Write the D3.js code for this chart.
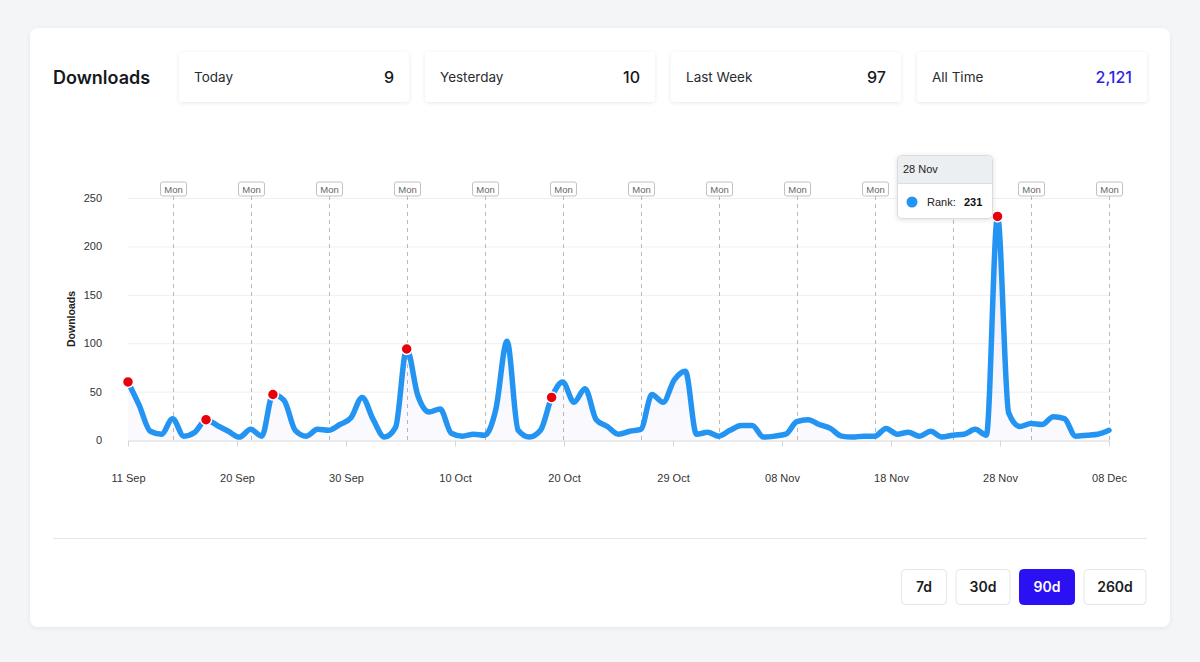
<!DOCTYPE html>
<html>
<head>
<meta charset="utf-8">
<script src="https://cdn.jsdelivr.net/npm/d3@7"></script>
<style>
  html, body { margin: 0; padding: 0; background: #f4f5f7; }
  svg { display: block; }
</style>
</head>
<body>
<svg id="chart" width="1200" height="662"></svg>
<script>
// ---------- data ----------
const startDate = "2025-09-11";
const downloads = [
  60, 36, 9, 6, 22, 4, 8, 21, 15, 9,
  3, 11, 4, 47, 41, 10, 4, 11, 10, 16,
  23, 44, 21, 3, 13, 94, 46, 29, 32, 7,
  4, 6, 5, 32, 102, 10, 3, 10, 44, 60,
  39, 53, 21, 14, 6, 9, 11, 47, 39, 62,
  71, 6, 8, 4, 10, 15, 15, 3, 4, 6,
  19, 21, 16, 12, 4, 3, 4, 4, 12, 6,
  8, 4, 9, 3, 5, 6, 11, 5, 231, 28,
  14, 17, 16, 24, 22, 4, 5, 6, 10
];
const markerDays = [0, 7, 13, 25, 38, 78];
const tickLabels = ["11 Sep", "20 Sep", "30 Sep", "10 Oct", "20 Oct", "29 Oct", "08 Nov", "18 Nov", "28 Nov", "08 Dec"];
const yTicks = [0, 50, 100, 150, 200, 250];
const statLabels = ["Today", "Yesterday", "Last Week", "All Time"];
const statValues = ["9", "10", "97", "2,121"];
const rangeButtons = ["7d", "30d", "90d", "260d"];
const activeButton = "90d";
const tooltipDay = 78;
const tooltipLabel = "28 Nov";
const tooltipSeries = "Rank:";

(function () {
// ---------- setup ----------
const svg = d3.select("#chart");
const uiFont = "Inter, 'Noto Sans', sans-serif";
const chartFont = "'Liberation Sans', Arial, sans-serif";

const defs = svg.append("defs");
const f1 = defs.append("filter").attr("id", "cardShadow").attr("x", "-5%").attr("y", "-5%").attr("width", "110%").attr("height", "110%");
f1.append("feDropShadow").attr("dx", 0).attr("dy", 1).attr("stdDeviation", 2).attr("flood-color", "#000").attr("flood-opacity", 0.07);
const f2 = defs.append("filter").attr("id", "boxShadow").attr("x", "-10%").attr("y", "-30%").attr("width", "120%").attr("height", "160%");
f2.append("feDropShadow").attr("dx", 0).attr("dy", 1).attr("stdDeviation", 2).attr("flood-color", "#000").attr("flood-opacity", 0.09);
const f3 = defs.append("filter").attr("id", "tipShadow").attr("x", "-20%").attr("y", "-20%").attr("width", "140%").attr("height", "150%");
f3.append("feDropShadow").attr("dx", 0).attr("dy", 1).attr("stdDeviation", 2.5).attr("flood-color", "#000").attr("flood-opacity", 0.12);

// card
svg.append("rect").attr("x", 30).attr("y", 28).attr("width", 1140).attr("height", 599)
  .attr("rx", 8).attr("fill", "#fff").attr("filter", "url(#cardShadow)");

// title
svg.append("text").attr("x", 53).attr("y", 84).text("Downloads")
  .attr("font-family", uiFont).attr("font-size", 18).attr("font-weight", 600).attr("fill", "#16181d");

// stat boxes
const boxW = 230, boxGap = 16, box0 = 179;
const stats = svg.append("g").selectAll("g").data(statLabels).join("g")
  .attr("transform", (d, i) => `translate(${box0 + i * (boxW + boxGap)},52)`);
stats.append("rect").attr("width", boxW).attr("height", 50).attr("rx", 4)
  .attr("fill", "#fff").attr("filter", "url(#boxShadow)");
stats.append("text").attr("x", 15).attr("y", 30).text(d => d)
  .attr("font-family", uiFont).attr("font-size", 13.5).attr("fill", "#2a2c31");
stats.append("text").attr("x", boxW - 15).attr("y", 31).attr("text-anchor", "end")
  .text((d, i) => statValues[i])
  .attr("font-family", uiFont).attr("font-size", 16).attr("font-weight", 500)
  .attr("fill", (d, i) => i === 3 ? "#2f24e0" : "#16181d");

// ---------- chart ----------
const pLeft = 128, pRight = 1109, pTop = 198, pBottom = 440;
const t0 = d3.timeParse("%Y-%m-%d")(startDate);
const dates = downloads.map((d, i) => d3.timeDay.offset(t0, i));
const x = d3.scaleTime().domain([dates[0], dates[dates.length - 1]]).range([pLeft, pRight]);
const y = d3.scaleLinear().domain([0, 250]).range([pBottom, pTop]);
const tickScale = d3.scalePoint().domain(tickLabels).range([pLeft, pRight]);

const g = svg.append("g");

// horizontal grid
g.append("g").selectAll("line").data(yTicks.filter(v => v > 0)).join("line")
  .attr("x1", pLeft).attr("x2", pRight).attr("y1", d => y(d) + 0.5).attr("y2", d => y(d) + 0.5)
  .attr("stroke", "#efefef").attr("stroke-width", 1);

// y axis labels
const yAxis = g.append("g").attr("transform", `translate(${pLeft},0)`)
  .call(d3.axisLeft(y).tickValues(yTicks).tickSize(0).tickPadding(26));
yAxis.select(".domain").remove();
yAxis.selectAll("text").attr("font-family", chartFont).attr("font-size", 11).attr("fill", "#333");

g.append("text").attr("transform", `translate(75,${(pTop + pBottom) / 2})rotate(-90)`)
  .attr("text-anchor", "middle").text("Downloads")
  .attr("font-family", chartFont).attr("font-size", 10.5).attr("font-weight", 700).attr("fill", "#222");

// x axis
const xAxis = g.append("g").attr("transform", `translate(0,${pBottom + 0.5})`)
  .call(d3.axisBottom(tickScale).tickSize(6).tickPadding(28).tickSizeOuter(0));
xAxis.select(".domain").attr("stroke", "#d6d6d6");
xAxis.selectAll(".tick line").attr("stroke", "#d6d6d6");
xAxis.selectAll("text").attr("font-family", chartFont).attr("font-size", 11).attr("fill", "#333");

// Monday markers
const mondays = d3.timeMonday.range(dates[0], d3.timeDay.offset(dates[dates.length - 1], 1));
const mon = g.append("g").selectAll("g").data(mondays).join("g")
  .attr("transform", d => `translate(${Math.round(x(d)) + 0.5},0)`);
mon.append("line").attr("y1", 196).attr("y2", pBottom)
  .attr("stroke", "#b9b9b9").attr("stroke-dasharray", "4,4").attr("stroke-width", 1);
mon.append("rect").attr("x", -13).attr("y", 182).attr("width", 26).attr("height", 14).attr("rx", 2)
  .attr("fill", "#fff").attr("stroke", "#c2c2c2").attr("stroke-width", 1);
mon.append("text").attr("y", 192.5).attr("text-anchor", "middle").text("Mon")
  .attr("font-family", chartFont).attr("font-size", 9.5).attr("fill", "#666");

// area + line
const grad = defs.append("linearGradient").attr("id", "areaGrad")
  .attr("gradientUnits", "userSpaceOnUse").attr("x1", 0).attr("x2", 0).attr("y1", y(231)).attr("y2", pBottom);
grad.append("stop").attr("offset", 0).attr("stop-color", "#6d72e8").attr("stop-opacity", 0.14);
grad.append("stop").attr("offset", 1).attr("stop-color", "#6d72e8").attr("stop-opacity", 0.03);

const area = d3.area().x((d, i) => x(dates[i])).y0(pBottom).y1(d => y(d)).curve(d3.curveMonotoneX);
const line = d3.line().x((d, i) => x(dates[i])).y(d => y(d)).curve(d3.curveMonotoneX);
g.append("path").datum(downloads).attr("d", area).attr("fill", "url(#areaGrad)");
g.append("path").datum(downloads).attr("d", line).attr("fill", "none")
  .attr("stroke", "#2494f2").attr("stroke-width", 5.5).attr("stroke-linejoin", "round").attr("stroke-linecap", "round");

// red markers
g.append("g").selectAll("circle").data(markerDays).join("circle")
  .attr("cx", d => x(dates[d])).attr("cy", d => y(downloads[d])).attr("r", 5.5)
  .attr("fill", "#e8000b").attr("stroke", "#fff").attr("stroke-width", 1.5);

// tooltip
const tip = svg.append("g").attr("transform", "translate(897,155)");
tip.append("rect").attr("x", 0.5).attr("y", 0.5).attr("width", 95).attr("height", 63).attr("rx", 4)
  .attr("fill", "#fff").attr("stroke", "#dcdcdc").attr("filter", "url(#tipShadow)");
tip.append("path").attr("d", "M1,28 V4.5 A3.5,3.5 0 0 1 4.5,1 H91.5 A3.5,3.5 0 0 1 95,4.5 V28 Z")
  .attr("fill", "#eceff1");
tip.append("line").attr("x1", 1).attr("x2", 95).attr("y1", 28.5).attr("y2", 28.5).attr("stroke", "#dedede");
tip.append("text").attr("x", 6).attr("y", 18).text(tooltipLabel)
  .attr("font-family", chartFont).attr("font-size", 11).attr("fill", "#222");
tip.append("circle").attr("cx", 15).attr("cy", 47).attr("r", 5.5).attr("fill", "#2494f2");
tip.append("text").attr("x", 30).attr("y", 51).text(tooltipSeries)
  .attr("font-family", chartFont).attr("font-size", 11).attr("fill", "#222");
tip.append("text").attr("x", 67).attr("y", 51).text(downloads[tooltipDay])
  .attr("font-family", chartFont).attr("font-size", 11).attr("font-weight", 700).attr("fill", "#111");

// divider
svg.append("line").attr("x1", 53).attr("x2", 1147).attr("y1", 538.5).attr("y2", 538.5)
  .attr("stroke", "#e6e6e6");

// range buttons
const btnW = { "7d": 46, "30d": 55, "90d": 56, "260d": 63 };
let bx = 901;
const btnData = rangeButtons.map(b => { const o = { label: b, x: bx, w: btnW[b] }; bx += btnW[b] + 8.5; return o; });
const btn = svg.append("g").selectAll("g").data(btnData).join("g")
  .attr("transform", d => `translate(${d.x},569)`);
btn.append("rect").attr("x", 0.5).attr("y", 0.5).attr("width", d => d.w - 1).attr("height", 35).attr("rx", 4)
  .attr("fill", d => d.label === activeButton ? "#2a10f2" : "#fff")
  .attr("stroke", d => d.label === activeButton ? "#2a10f2" : "#e6e6e6");
btn.append("text").attr("x", d => d.w / 2).attr("y", 23).attr("text-anchor", "middle").text(d => d.label)
  .attr("font-family", uiFont).attr("font-size", 14).attr("font-weight", 600)
  .attr("fill", d => d.label === activeButton ? "#fff" : "#1b1d22");
})();
</script>
</body>
</html>
